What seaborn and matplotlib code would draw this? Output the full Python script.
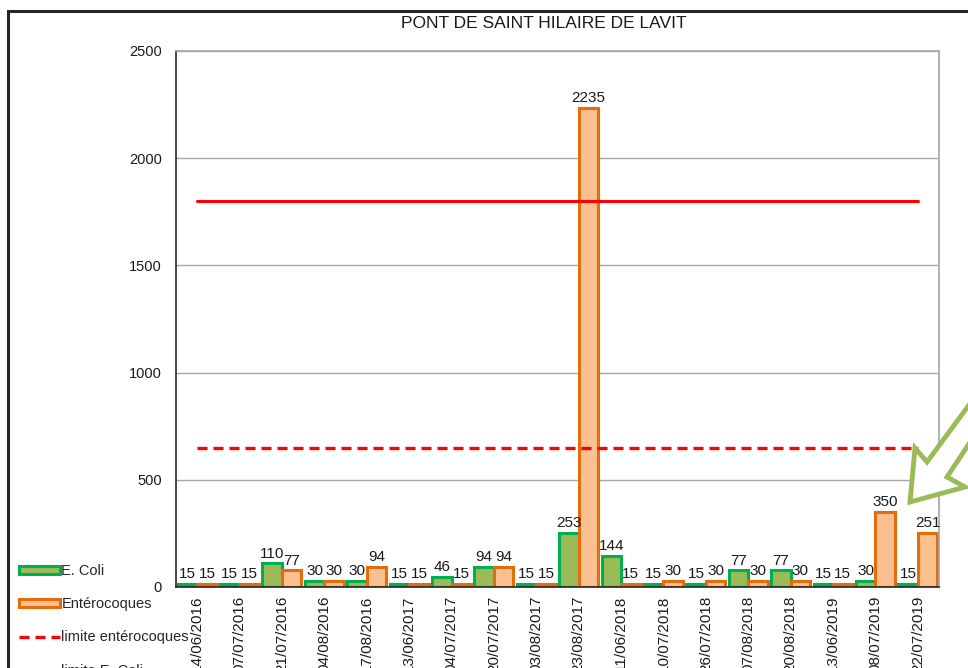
import pandas as pd
import numpy as np
import matplotlib
matplotlib.use('Agg')
import matplotlib.pyplot as plt
import seaborn as sns
from matplotlib.patches import Patch, Rectangle, Polygon
from matplotlib.lines import Line2D

# Data
dates = ['14/06/2016', '07/07/2016', '21/07/2016', '04/08/2016', '17/08/2016',
         '13/06/2017', '04/07/2017', '20/07/2017', '03/08/2017', '23/08/2017',
         '11/06/2018', '10/07/2018', '26/07/2018', '07/08/2018', '20/08/2018',
         '13/06/2019', '08/07/2019', '22/07/2019']
ecoli = [15, 15, 110, 30, 30, 15, 46, 94, 15, 253, 144, 15, 15, 77, 77, 15, 30, 15]
entero = [15, 15, 77, 30, 94, 15, 15, 94, 15, 2235, 15, 30, 30, 30, 30, 15, 350, 251]
limite_entero = 650
limite_ecoli = 1800

series = ['E. Coli', 'Entérocoques']
fills = ['#9BBB59', '#FAC090']
edges = ['#00B050', '#E46C0A']

df = pd.DataFrame({'date': dates * 2,
                   'valeur': ecoli + entero,
                   'serie': [series[0]] * len(dates) + [series[1]] * len(dates)})

sns.set_style('white')
plt.rcParams['font.family'] = ['Liberation Sans', 'DejaVu Sans']

W, H = 968, 668
fig = plt.figure(figsize=(W / 100, H / 100), dpi=100)
ax = fig.add_axes([176 / W, 1 - 587 / H, (939 - 176) / W, (587 - 51) / H])

sns.barplot(data=df, x='date', y='valeur', hue='serie', palette=fills,
            width=0.92, ax=ax, legend=False, saturation=1)

for cont, ec in zip(ax.containers, edges):
    for bar in cont:
        bar.set_edgecolor(ec)
        bar.set_linewidth(2.2)
    ax.bar_label(cont, fmt='%g', fontsize=11, padding=2, color='#1a1a1a')

# limit lines, from first to last category
x0, x1 = 0, len(dates) - 1
ax.plot([x0, x1], [limite_ecoli] * 2, color='#FF0000', lw=2.2, zorder=5)
ax.plot([x0, x1], [limite_entero] * 2, color='#FF0000', lw=2.4, ls=(0, (3, 1.8)), zorder=5)

ax.set_xlim(-0.5, len(dates) - 0.5)
ax.set_ylim(0, 2500)
ax.set_yticks(range(0, 2501, 500))
ax.yaxis.grid(True, color='#A6A6A6', lw=1)
ax.set_axisbelow(True)
ax.tick_params(axis='y', length=0, pad=10, labelsize=10.5, labelcolor='#1a1a1a')
ax.tick_params(axis='x', length=0, pad=6, labelsize=11, labelcolor='#1a1a1a')
plt.setp(ax.get_xticklabels(), rotation=90, va='top', ha='center')
ax.set_xlabel('')
ax.set_ylabel('')
for side in ['left', 'bottom']:
    ax.spines[side].set_color('#262626')
    ax.spines[side].set_linewidth(1.2)
for side in ['top', 'right']:
    ax.spines[side].set_color('#A6A6A6')
    ax.spines[side].set_linewidth(1.2)

fig.text(544 / W, 1 - 24 / H, 'PONT DE SAINT HILAIRE DE LAVIT', ha='center',
         va='center', fontsize=12.5, color='#1a1a1a')

handles = [Patch(facecolor=fills[0], edgecolor=edges[0], lw=2.2),
           Patch(facecolor=fills[1], edgecolor=edges[1], lw=2.2),
           Line2D([], [], color='#FF0000', lw=2.4, ls=(0, (3, 1.8))),
           Line2D([], [], color='#FF5050', lw=1.2)]
labels = ['E. Coli', 'Entérocoques', 'limite entérocoques', 'limite E. Coli']
fig.legend(handles, labels, loc='upper left', bbox_to_anchor=(19 / W, 1 - 564 / H),
           frameon=False, fontsize=10.5, labelspacing=1.32, handlelength=2.8,
           handleheight=0.45, handletextpad=0.1, borderaxespad=0, borderpad=0)

# outer frame of the chart
fig.add_artist(Rectangle((8 / W, -0.1), 1.2, 1.1 - 11 / H, transform=fig.transFigure,
                         fill=False, edgecolor='#262626', lw=2.2, zorder=10))

# green hollow arrow
pts = [(910, 502), (915, 448), (927, 462), (1000, 363), (1000, 397),
       (947, 477), (965, 487)]
arrow = Polygon([(x / W, 1 - y / H) for x, y in pts], closed=True,
                transform=fig.transFigure, facecolor='white', edgecolor='#9BBB59',
                lw=3.5, joinstyle='miter', zorder=12)
fig.add_artist(arrow)

fig.savefig('out.png', dpi=100)
